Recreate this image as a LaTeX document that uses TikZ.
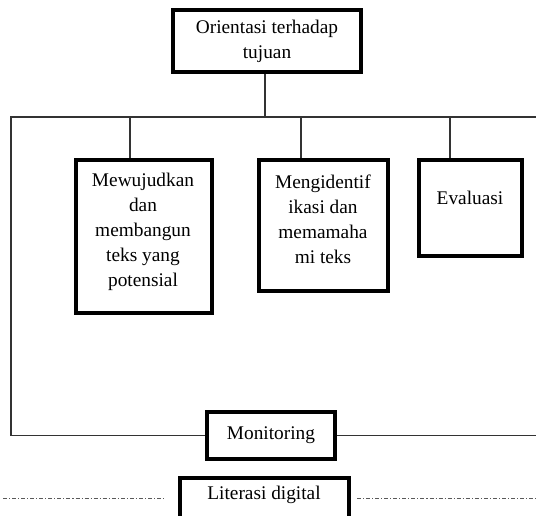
\documentclass[tikz,border=0pt]{standalone}
\usepackage{fontspec}
\setmainfont{Liberation Serif}
\usetikzlibrary{positioning}
\tikzset{
    boxn/.style = {rectangle, draw=black, line width=2.6pt, inner sep=0pt, align=center, font=\fontsize{14.5}{18.75}\selectfont},
    txtn/.style = {align=center, inner sep=0pt, font=\fontsize{14.5}{18.75}\selectfont},
}

\begin{document}
\begin{tikzpicture}[
	x=0.75pt,
	y=-0.75pt
]
\tikzset{
    edgen/.style = {-, line width=0.8pt, draw=black!80},
    edged/.style = {-, line width=0.6pt, draw=black!65, dash pattern=on 3pt off 1.5pt on 0.8pt off 1.5pt},
}
\useasboundingbox (0,0) rectangle (536,515);
\clip (0,0) rectangle (536,515);
\node[boxn, minimum width=141pt, minimum height=46.5pt] at (267,41) (top) {Orientasi terhadap\\tujuan};
\node[boxn, minimum width=102pt, minimum height=114.75pt] at (144,236.5) (b1) {};
\node[boxn, minimum width=96.75pt, minimum height=98.25pt] at (323.5,225.5) (b2) {};
\node[boxn, minimum width=77.25pt, minimum height=72pt] at (470.5,208) (b3) {};
\node[txtn] at (143,232) (t1) {Mewujudkan\\dan\\membangun\\teks yang\\potensial};
\node[txtn] at (323,219.5) (t2) {Mengidentif\\ikasi dan\\memamaha\\mi teks};
\node[txtn] at (470,198) (t3) {Evaluasi};
\node[boxn, minimum width=96pt, minimum height=35.25pt] at (271,435.5) (mon) {Monitoring};
\node[boxn, minimum width=126.75pt, minimum height=45pt] at (264.5,508) (lit) {};
\node[txtn] at (264,495) (t4) {Literasi digital};
\coordinate (j0) at (265,117);
\coordinate (bl) at (11,117);
\coordinate (br) at (536,117);
\coordinate (j1) at (130,117);
\coordinate (j2) at (301,117);
\coordinate (j3) at (450,117);
\coordinate (dl1) at (3,498);
\coordinate (dl2) at (165,498);
\coordinate (dr1) at (357,498);
\coordinate (dr2) at (536,498);
\draw[edgen] (j0 |- top.south) to (j0);
\draw[edgen] (br) -- (bl) -- (bl |- mon.west) -- (mon.west);
\draw[edgen] (mon.east) -- (mon.east -| br);
\draw[edgen] (j1) to (j1 |- b1.north);
\draw[edgen] (j2) to (j2 |- b2.north);
\draw[edgen] (j3) to (j3 |- b3.north);
\draw[edged] (dl1) to (dl2);
\draw[edged] (dr1) to (dr2);

\end{tikzpicture}
\end{document}
